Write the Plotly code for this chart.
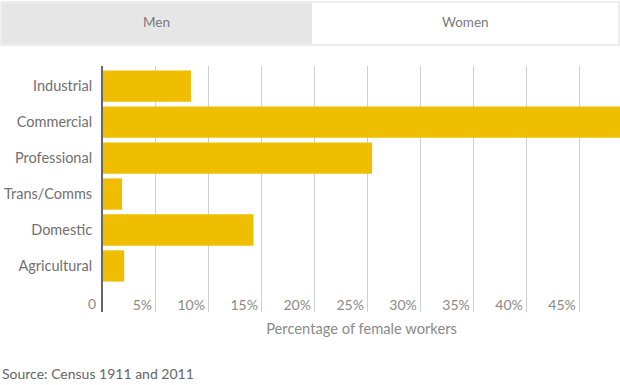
import plotly.graph_objects as go

categories = ["Industrial", "Commercial", "Professional", "Trans/Comms", "Domestic", "Agricultural"]
values = [8.3, 50.0, 25.4, 1.8, 14.2, 2.0]
tick_vals = [0, 5, 10, 15, 20, 25, 30, 35, 40, 45]
tick_text = ["0", "5%", "10%", "15%", "20%", "25%", "30%", "35%", "40%", "45%"]
tabs = ["Men", "Women"]
x_title = "Percentage of female workers"
source = "Source: Census 1911 and 2011"

W, H = 620, 385
L, R, T, B = 103, 0, 66, 73
PW, PH = W - L - R, H - T - B
FONT = "Lato, 'Open Sans', sans-serif"

fig = go.Figure()
fig.add_trace(go.Bar(
    y=list(range(len(categories))), x=values, orientation="h",
    marker=dict(color="#F0BE00", line=dict(width=0)),
    width=0.87, hoverinfo="skip",
))

fig.update_layout(
    width=W, height=H,
    margin=dict(l=L, r=R, t=T, b=B),
    paper_bgcolor="white", plot_bgcolor="white",
    showlegend=False,
    font=dict(family=FONT, color="#777"),
    xaxis=dict(
        range=[0, 48.8], tickvals=tick_vals[1:], ticktext=tick_text[1:],
        ticklabelposition="inside left", ticklabelstandoff=-7, ticklabelshift=-4,
        automargin=False,
        showgrid=True, gridcolor="#cfcfcf", gridwidth=1,
        zeroline=False, showline=False,
        tickfont=dict(size=14, color="#8a8a8a"),
        title=dict(text=x_title, font=dict(size=14.7, color="#8a8a8a"), standoff=11),
    ),
    yaxis=dict(
        range=[6.28, -0.56], automargin=False,
        tickvals=list(range(len(categories))), ticktext=categories,
        showgrid=False, zeroline=False,
        showline=True, linecolor="#666", linewidth=2,
        ticks="", ticklabelstandoff=6,
        tickfont=dict(size=14.5, color="#707070"),
    ),
)

def px_x(v):
    return (v - L) / PW

def px_y(v):
    return (H - B - v) / PH

# "0" tick label, left of the axis line
fig.add_annotation(xref="x", yref="paper", x=tick_vals[0], y=px_y(303),
                   xanchor="right", yanchor="middle", xshift=-5,
                   text=tick_text[0], showarrow=False,
                   font=dict(size=14, color="#8a8a8a"))

# Tabs at top
fig.add_shape(type="rect", xref="paper", yref="paper",
              x0=px_x(1), x1=px_x(619), y0=px_y(45), y1=px_y(2),
              line=dict(color="#dcdcdc", width=1), fillcolor="white", layer="below")
fig.add_shape(type="rect", xref="paper", yref="paper",
              x0=px_x(2), x1=px_x(312), y0=px_y(44), y1=px_y(3),
              line=dict(width=0), fillcolor="#e6e6e6", layer="below")
fig.add_annotation(xref="paper", yref="paper", x=px_x(156), y=px_y(22),
                   xanchor="center", yanchor="middle",
                   text=tabs[0], showarrow=False, font=dict(size=13.5, color="#7a7a7a"))
fig.add_annotation(xref="paper", yref="paper", x=px_x(465), y=px_y(22),
                   xanchor="center", yanchor="middle",
                   text=tabs[1], showarrow=False, font=dict(size=13.5, color="#7a7a7a"))

fig.add_annotation(xref="paper", yref="paper", x=px_x(0), y=px_y(373),
                   xanchor="left", yanchor="middle", text=source, showarrow=False,
                   font=dict(size=14, color="#666"))

fig.write_html("out.html", config={"displayModeBar": False},
               post_script="document.body.style.margin='0';")
